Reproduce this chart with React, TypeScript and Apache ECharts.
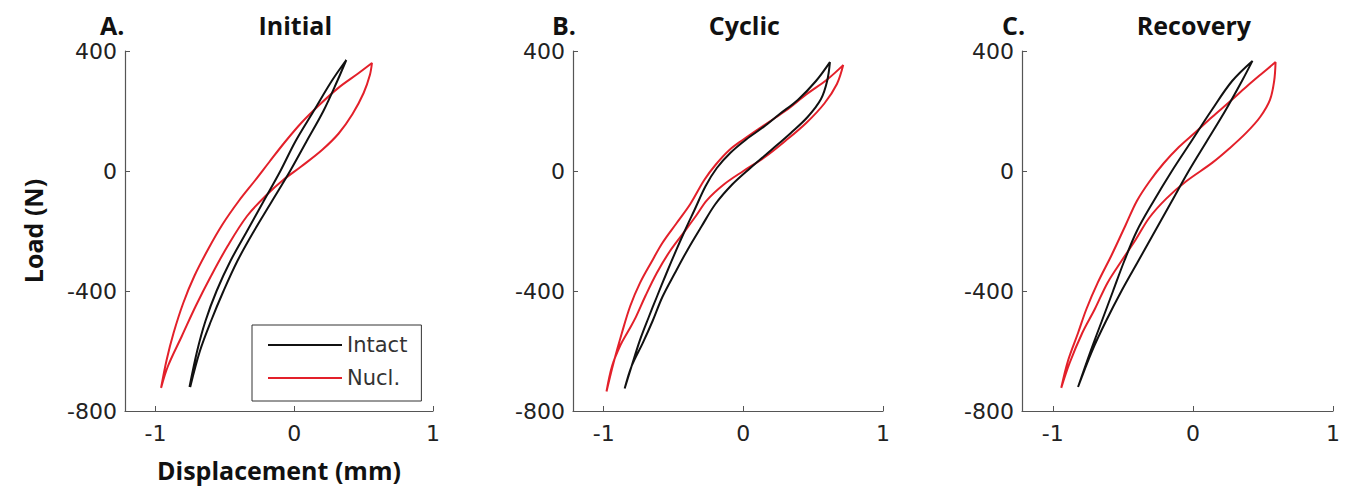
import React, { useEffect, useRef } from "react";
import * as echarts from "echarts";

// ---- data (Displacement mm, Load N) ----
const X_TICKS = [-1, 0, 1];
const Y_TICKS = [-800, -400, 0, 400];
const PANEL_LETTERS = ["A.", "B.", "C."];
const PANEL_TITLES = ["Initial", "Cyclic", "Recovery"];
const SERIES_NAMES = ["Intact", "Nucl."];

// each loop: lower branch upward to the peak, then upper branch back down
const initialIntact = [
  [-0.75, -720], [-0.68, -600], [-0.60, -500], [-0.51, -400], [-0.41, -300], [-0.29, -200],
  [-0.16, -100], [-0.03, 0], [0.09, 100], [0.21, 200], [0.31, 300], [0.375, 370],
  [0.27, 300], [0.14, 200], [0.01, 100], [-0.10, 0], [-0.22, -100], [-0.34, -200],
  [-0.46, -300], [-0.56, -400], [-0.64, -500], [-0.70, -600], [-0.755, -720],
];
const initialNucl = [
  [-0.96, -723], [-0.91, -650], [-0.81, -550], [-0.71, -450], [-0.60, -350], [-0.48, -250],
  [-0.34, -150], [-0.20, -80], [-0.08, -30], [0.05, 15], [0.20, 70], [0.32, 125],
  [0.42, 190], [0.50, 260], [0.545, 320], [0.56, 360],
  [0.46, 325], [0.32, 278], [0.18, 220], [0.05, 160], [-0.07, 95], [-0.18, 30],
  [-0.28, -30], [-0.40, -100], [-0.52, -180], [-0.62, -260], [-0.72, -350], [-0.80, -440],
  [-0.87, -540], [-0.92, -630], [-0.96, -723],
];
const cyclicIntact = [
  [-0.85, -725], [-0.80, -650], [-0.72, -573], [-0.65, -500], [-0.58, -420], [-0.49, -340],
  [-0.40, -263], [-0.30, -185], [-0.20, -110], [-0.08, -45], [0.05, 10], [0.20, 70],
  [0.34, 127], [0.46, 180], [0.556, 240], [0.60, 300], [0.62, 363],
  [0.52, 300], [0.39, 237], [0.26, 190], [0.145, 147], [0.02, 105], [-0.094, 60],
  [-0.19, 10], [-0.27, -50], [-0.35, -130], [-0.42, -200], [-0.48, -263], [-0.55, -340],
  [-0.62, -420], [-0.68, -490], [-0.74, -563], [-0.80, -650], [-0.85, -725],
];
const cyclicNucl = [
  [-0.98, -735], [-0.94, -650], [-0.88, -580], [-0.82, -530], [-0.77, -487], [-0.70, -415],
  [-0.62, -340], [-0.53, -270], [-0.43, -207], [-0.34, -150], [-0.26, -97], [-0.14, -45],
  [0.0, 0], [0.15, 45], [0.30, 100], [0.45, 160], [0.58, 225], [0.67, 290], [0.715, 353],
  [0.60, 305], [0.45, 255], [0.30, 200], [0.14, 150], [0.0, 105], [-0.10, 70],
  [-0.20, 20], [-0.28, -30], [-0.38, -110], [-0.48, -175], [-0.58, -240], [-0.66, -305],
  [-0.74, -373], [-0.81, -450], [-0.87, -540], [-0.93, -640], [-0.98, -735],
];
const recoveryIntact = [
  [-0.82, -720], [-0.72, -600], [-0.62, -500], [-0.51, -400], [-0.39, -300], [-0.27, -200],
  [-0.15, -100], [-0.03, 0], [0.10, 100], [0.23, 200], [0.35, 300], [0.425, 367],
  [0.28, 300], [0.13, 200], [-0.01, 100], [-0.15, 0], [-0.28, -100], [-0.40, -200],
  [-0.49, -300], [-0.57, -400], [-0.65, -500], [-0.73, -600], [-0.82, -720],
];
const recoveryNucl = [
  [-0.94, -723], [-0.88, -640], [-0.79, -540], [-0.70, -460], [-0.61, -373], [-0.51, -300],
  [-0.41, -230], [-0.31, -155], [-0.19, -92], [-0.05, -35], [0.137, 27], [0.26, 75],
  [0.38, 127], [0.48, 180], [0.55, 237], [0.58, 300], [0.59, 363],
  [0.48, 320], [0.38, 280], [0.26, 230], [0.137, 180], [0.02, 130], [-0.10, 80],
  [-0.21, 25], [-0.31, -35], [-0.40, -100], [-0.48, -180], [-0.58, -280], [-0.68, -373],
  [-0.76, -460], [-0.82, -540], [-0.89, -630], [-0.94, -723],
];

const PANEL_DATA = [
  [initialIntact, initialNucl],
  [cyclicIntact, cyclicNucl],
  [recoveryIntact, recoveryNucl],
];

const COLORS = ["#111111", "#e3202a"];
const GRID_LEFT = [125, 573, 1022];
const GRID_WIDTH = [308, 310, 311];
const LETTER_X = [100, 552, 1002];

export default function App() {
  const ref = useRef<HTMLDivElement>(null);
  useEffect(() => {
    if (!ref.current) return;
    const chart = echarts.init(ref.current, null, { renderer: "svg" });
    const tickFont = { fontFamily: "DejaVu Sans", fontSize: 22, color: "#222" };
    const titleFont = { fontFamily: "Open Sans", fontWeight: "bold", fontSize: 25, color: "#111" };
    const grids = GRID_LEFT.map((l, i) => ({
      left: l, top: 51, width: GRID_WIDTH[i], height: 360, outerBoundsMode: "none", containLabel: false,
    }));
    const xAxes = grids.map((_, i) => ({
      type: "value",
      gridIndex: i,
      min: -1.22,
      max: 1,
      name: i === 0 ? "Displacement (mm)" : "",
      nameLocation: "middle",
      nameGap: 46,
      nameTextStyle: titleFont,
      axisLine: { onZero: false, lineStyle: { color: "#555", width: 1.2 } },
      axisTick: { show: true, inside: true, length: 5, customValues: X_TICKS, lineStyle: { color: "#555" } },
      axisLabel: { ...tickFont, margin: 11, customValues: X_TICKS, formatter: (v: number) => String(v) },
      splitLine: { show: false },
    }));
    const yAxes = grids.map((_, i) => ({
      type: "value",
      gridIndex: i,
      min: -800,
      max: 400,
      interval: 400,
      name: i === 0 ? "Load (N)" : "",
      nameLocation: "middle",
      nameGap: 80,
      nameTextStyle: titleFont,
      axisLine: { show: true, onZero: false, lineStyle: { color: "#555", width: 1.2 } },
      axisTick: { show: true, inside: true, length: 5, lineStyle: { color: "#555" } },
      axisLabel: { ...tickFont, margin: 8, formatter: (v: number) => (Y_TICKS.includes(v) ? String(v) : "") },
      splitLine: { show: false },
    }));
    const series: any[] = [];
    PANEL_DATA.forEach((pair, i) => {
      pair.forEach((d, k) => {
        series.push({
          type: "line",
          name: SERIES_NAMES[k],
          xAxisIndex: i,
          yAxisIndex: i,
          data: d,
          symbol: "none",
          smooth: 0.35,
          z: k === 0 ? 3 : 2,
          lineStyle: { color: COLORS[k], width: 2 },
          itemStyle: { color: COLORS[k] },
        });
      });
    });
    const graphics: any[] = [];
    GRID_LEFT.forEach((l, i) => {
      graphics.push({
        type: "text",
        x: LETTER_X[i],
        y: 25,
        style: {
          text: PANEL_LETTERS[i],
          font: "bold 25px 'Open Sans'",
          fill: "#111",
          textVerticalAlign: "middle",
        },
      });
      const zeroX = l + (1.22 / 2.22) * GRID_WIDTH[i];
      graphics.push({
        type: "text",
        x: zeroX + 1,
        y: 25,
        style: {
          text: PANEL_TITLES[i],
          font: "bold 25px 'Open Sans'",
          fill: "#111",
          textAlign: "center",
          textVerticalAlign: "middle",
        },
      });
    });
    chart.setOption({
      animation: false,
      grid: grids,
      xAxis: xAxes,
      yAxis: yAxes,
      series,
      legend: {
        data: SERIES_NAMES,
        orient: "vertical",
        left: 252,
        top: 325,
        padding: [7, 14, 10, 16],
        itemGap: 7,
        itemWidth: 74,
        itemHeight: 2,
        icon: "rect",
        borderColor: "#333",
        borderWidth: 1,
        backgroundColor: "#fff",
        textStyle: { fontFamily: "DejaVu Sans", fontSize: 21, color: "#333", lineHeight: 26 },
      },
      graphic: graphics,
    });
    return () => chart.dispose();
  }, []);
  return (
    <div
      ref={ref}
      style={{ position: "absolute", left: 0, top: 0, width: 1350, height: 489 }}
    />
  );
}
